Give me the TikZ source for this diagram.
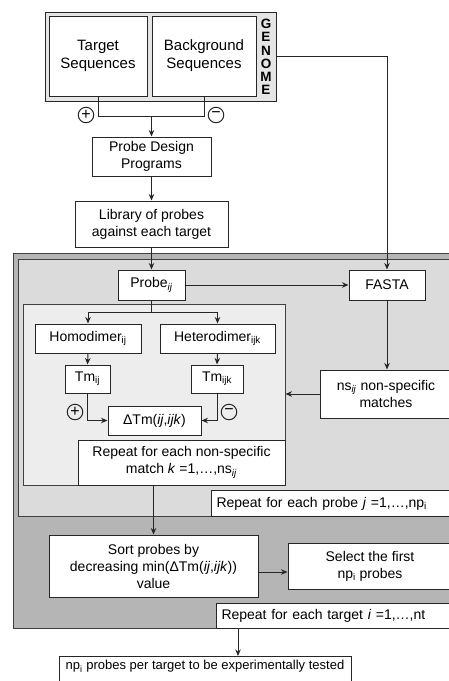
\documentclass[tikz,border=0pt]{standalone}
\usepackage{fontspec}
\setmainfont{Liberation Sans}
\usetikzlibrary{arrows.meta, calc}
\definecolor{targetgray}{gray}{0.71}
\definecolor{probegray}{gray}{0.86}
\definecolor{matchgray}{gray}{0.93}
\definecolor{genomegray}{gray}{0.90}
\tikzset{
    my-box/.style={
        draw=black!85, fill=white, line width=1pt, inner sep=0pt, align=center
    },
    my-region/.style={
        draw=black!75, line width=1pt, inner sep=0pt
    },
    my-label/.style={
        my-box, anchor=north west, align=left, inner xsep=5pt, inner ysep=0pt
    },
    my-sign/.style={
        draw=black!85, circle, line width=1pt, minimum size=15.5pt, inner sep=0pt,
        font=\fontsize{16}{16}\selectfont
    },
    my-arrow/.style={
        -{Stealth[length=6.5pt, width=5.5pt]}, line width=1pt, draw=black!85
    },
    my-line/.style={
        line width=1pt, draw=black!85
    },
}

\begin{document}
\begin{tikzpicture}[x=1pt, y=-1pt, font=\fontsize{14}{17}\selectfont]

        \clip (0,0) rectangle (449,681);

        % GENOME AND SEQUENCES
        \node[my-box, fill=genomegray, minimum width=231pt, minimum height=89pt] (genome) at (160.5,56.5) {};
        \node[my-box, minimum width=98pt,  minimum height=80pt, font=\fontsize{15}{18}\selectfont] (target)     at (98,56)  {Target\\Sequences};
        \node[my-box, minimum width=104pt, minimum height=80pt, font=\fontsize{15}{18}\selectfont] (background) at (204,56) {Background\\Sequences};
        \node[align=center, inner sep=0pt, font=\fontsize{13.5}{13.3}\bfseries\selectfont] (genomeword) at (266,57) {G\\E\\N\\O\\M\\E};

        % DESIGN AND LIBRARY
        \node[my-box, minimum width=119pt, minimum height=39pt] (design)  at (151.5,156.5) {Probe Design\\Programs};
        \node[my-box, minimum width=153pt, minimum height=46pt] (library) at (151.5,224)   {Library of probes\\against each target};

        % NESTED LOOP REGIONS
        \node[my-region, fill=targetgray, minimum width=447pt, minimum height=375pt] (tloop) at (236.5,440.5) {};
        \node[my-region, fill=probegray,  minimum width=442pt, minimum height=257pt] (ploop) at (239,387.5)   {};
        \node[my-region, fill=matchgray,  minimum width=262pt, minimum height=181pt] (kloop) at (154,394.5)   {};

        % PROBE LOOP
        \node[my-box, minimum width=67pt,  minimum height=30pt] (probe)  at (151.5,285) {Probe\textsubscript{\textit{ij}}};
        \node[my-box, minimum width=76pt,  minimum height=30pt] (fasta)  at (387,285)   {FASTA};
        \node[my-box, minimum width=132pt, minimum height=48pt] (ns)     at (386,394)   {ns\textsubscript{\textit{ij}} non-specific\\matches};

        % MATCH LOOP
        \node[my-box, minimum width=106pt, minimum height=29pt] (homo)   at (88,338.5)    {Homodimer\textsubscript{ij}};
        \node[my-box, minimum width=115pt, minimum height=29pt] (hetero) at (217.5,338.5) {Heterodimer\textsubscript{ijk}};
        \node[my-box, minimum width=45pt,  minimum height=28pt] (tmij)   at (87.5,379)    {Tm\textsubscript{ij}};
        \node[my-box, minimum width=52pt,  minimum height=28pt] (tmijk)  at (217,379)     {Tm\textsubscript{ijk}};
        \node[my-box, minimum width=93pt,  minimum height=29pt] (dtm)    at (154.5,420.5) {ΔTm(\textit{ij},\textit{ijk})};
        \node[my-box, minimum width=207pt, minimum height=45pt] (klabel) at (181.5,462.5) {Repeat for each non-specific\\match \textit{k} =1,…,ns\textsubscript{\textit{ij}}};

        % LOOP LABELS
        \node[my-label, text width=238pt, minimum height=26pt] (plabel) at (211,490) {Repeat for each probe \textit{j} =1,…,np\textsubscript{i}};
        \node[my-label, text width=233pt, minimum height=25pt] (tlabel) at (216,603) {Repeat for each target \textit{i} =1,…,nt};

        % SORT, SELECT, RESULT
        \node[my-box, minimum width=209pt, minimum height=62pt] (sort)   at (153.5,566) {Sort probes by\\decreasing min(ΔTm(\textit{ij},\textit{ijk}))\\value};
        \node[my-box, minimum width=164pt, minimum height=46pt] (select) at (370,566)   {Select the first\\np\textsubscript{i} probes};
        \node[my-box, anchor=north, minimum width=292pt, inner ysep=4pt, text depth=16pt, font=\fontsize{13}{16}\selectfont] (final) at (205,656) {np\textsubscript{i} probes per target to be experimentally tested};

        % SEQUENCE CONNECTIONS
        \draw[my-line] (target.south) -- ++(0,20) coordinate (JOIN) -| (background.south);
        \draw[my-arrow] (design.north |- JOIN) -- (design.north);
        \node[my-sign] (plus1)  at (86,115)  {+};
        \node[my-sign] (minus1) at (216,115) {−};
        \draw[my-arrow] (design.south)  -- (library.north);
        \draw[my-arrow] (library.south) -- (probe.north);
        \draw[my-arrow] (genome.east)   -| (fasta.north);

        % PROBE CONNECTIONS
        \draw[my-arrow] (probe.east)  -- (fasta.west);
        \draw[my-arrow] (fasta.south) -- (fasta.south |- ns.north);
        \draw[my-arrow] (ns.west)     -- (ns.west -| kloop.east);
        \draw[my-line]  (probe.south) -- ++(0,12) coordinate (SPLIT);
        \draw[my-arrow] (SPLIT) -| (homo.north);
        \draw[my-arrow] (SPLIT) -| (hetero.north);

        % MATCH CONNECTIONS
        \draw[my-arrow] (homo.south)   -- (tmij.north);
        \draw[my-arrow] (hetero.south) -- (tmijk.north);
        \draw[my-arrow] (tmij.south)   |- (dtm.west);
        \draw[my-arrow] (tmijk.south)  |- (dtm.east);
        \node[my-sign] (plus2)  at (75,412)  {+};
        \node[my-sign] (minus2) at (229,412) {−};

        % OUTPUT CONNECTIONS
        \draw[my-arrow] (sort.north |- kloop.south) -- (sort.north);
        \draw[my-arrow] ([yshift=-6pt]sort.east) -- ([yshift=-6pt]sort.east -| select.west);
        \draw[my-arrow] ([xshift=22pt]tlabel.south west) -- ([xshift=22pt]tlabel.south west |- final.north);

    \end{tikzpicture}
\end{document}
